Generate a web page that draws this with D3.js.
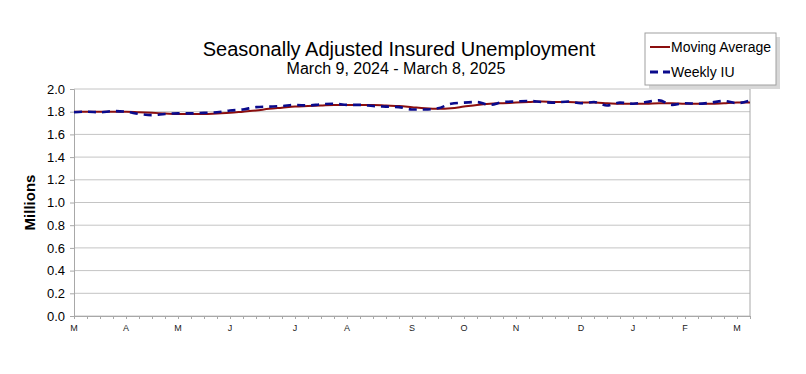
<!DOCTYPE html>
<html>
<head>
<meta charset="utf-8">
<script src="https://d3js.org/d3.v7.min.js"></script>
<style>
  body { margin: 0; background: #fff; }
  text { font-family: Arial, "Liberation Sans", sans-serif; }
</style>
</head>
<body>
<svg width="806" height="374"></svg>
<script>
// weekly values, millions (Mar 9 2024 .. Mar 8 2025)
var weekly = [1.795, 1.80, 1.795, 1.805, 1.80, 1.78, 1.77, 1.78, 1.785, 1.785,
              1.79, 1.795, 1.81, 1.82, 1.84, 1.845, 1.85, 1.86, 1.855, 1.865,
              1.87, 1.86, 1.86, 1.85, 1.845, 1.84, 1.82, 1.82, 1.83, 1.87,
              1.88, 1.885, 1.86, 1.885, 1.89, 1.895, 1.885, 1.88, 1.89, 1.875,
              1.885, 1.855, 1.88, 1.87, 1.885, 1.90, 1.86, 1.875, 1.87, 1.88,
              1.895, 1.875, 1.90];
var movingAvg = [1.80, 1.80, 1.80, 1.80, 1.80, 1.795, 1.79, 1.785, 1.78, 1.78,
                 1.78, 1.785, 1.79, 1.80, 1.81, 1.825, 1.835, 1.845, 1.85, 1.855,
                 1.86, 1.86, 1.86, 1.86, 1.855, 1.85, 1.84, 1.83, 1.825, 1.83,
                 1.845, 1.86, 1.87, 1.875, 1.88, 1.885, 1.89, 1.885, 1.885, 1.88,
                 1.88, 1.875, 1.87, 1.87, 1.87, 1.875, 1.875, 1.87, 1.87, 1.87,
                 1.875, 1.88, 1.88];
// month labels and the week index they sit under
var monthLabels = ["M", "A", "M", "J", "J", "A", "S", "O", "N", "D", "J", "F", "M"];
var monthWeeks = [0, 4, 8, 12, 17, 21, 26, 30, 34, 39, 43, 47, 51];
var yTicks = [0, 0.2, 0.4, 0.6, 0.8, 1.0, 1.2, 1.4, 1.6, 1.8, 2.0];

var svg = d3.select("svg");
var plotL = 74, plotR = 750, plotT = 89, plotB = 316;

var x = d3.scaleLinear().domain([0, weekly.length - 1]).range([plotL, plotR]);
var y = d3.scaleLinear().domain([0, 2]).range([plotB, plotT]);

// gridlines
svg.append("g")
    .selectAll("line")
    .data(yTicks)
    .enter()
    .append("line")
    .attr("x1", plotL)
    .attr("x2", plotR)
    .attr("y1", function(d) { return y(d); })
    .attr("y2", function(d) { return y(d); })
    .attr("stroke", "#c4c4c4")
    .attr("stroke-width", 1);

// right border
svg.append("line")
    .attr("x1", plotR).attr("x2", plotR)
    .attr("y1", plotT).attr("y2", plotB)
    .attr("stroke", "#a8a8a8");

// y axis
var yAxis = svg.append("g")
    .attr("transform", "translate(" + plotL + ",0)")
    .call(d3.axisLeft(y).tickValues(yTicks).tickSize(4).tickFormat(d3.format(".1f")));
yAxis.select(".domain").attr("stroke", "#a8a8a8");
yAxis.selectAll(".tick line").attr("stroke", "#a8a8a8");
yAxis.selectAll("text")
    .attr("font-size", 13)
    .attr("fill", "#000")
    .attr("x", -9)
    .attr("font-family", "Arial, 'Liberation Sans', sans-serif");

// x axis: weekly ticks
var xAxis = svg.append("g")
    .attr("transform", "translate(0," + plotB + ")")
    .call(d3.axisBottom(x).tickValues(d3.range(weekly.length)).tickSize(3).tickFormat(""));
xAxis.select(".domain").attr("stroke", "#a8a8a8");
xAxis.selectAll(".tick line").attr("stroke", "#a8a8a8");

svg.append("g")
    .selectAll("text")
    .data(monthLabels)
    .enter()
    .append("text")
    .attr("x", function(d, i) { return x(monthWeeks[i]); })
    .attr("y", plotB + 15)
    .attr("text-anchor", "middle")
    .attr("font-size", 9)
    .attr("fill", "#222")
    .text(function(d) { return d; });

// y label
svg.append("text")
    .attr("transform", "translate(35," + ((plotT + plotB) / 2) + ") rotate(-90)")
    .attr("text-anchor", "middle")
    .attr("font-size", 15)
    .attr("font-weight", "bold")
    .text("Millions");

// titles
svg.append("text")
    .attr("x", 399).attr("y", 56)
    .attr("text-anchor", "middle")
    .attr("font-size", 20)
    .text("Seasonally Adjusted Insured Unemployment");
svg.append("text")
    .attr("x", 396).attr("y", 74)
    .attr("text-anchor", "middle")
    .attr("font-size", 16)
    .text("March 9, 2024 - March 8, 2025");

// lines
var line = d3.line()
    .x(function(d, i) { return x(i); })
    .y(function(d) { return y(d); })
    .curve(d3.curveMonotoneX);

svg.append("path")
    .datum(movingAvg)
    .attr("d", line)
    .attr("fill", "none")
    .attr("stroke", "#8b0e0e")
    .attr("stroke-width", 2);

svg.append("path")
    .datum(weekly)
    .attr("d", line)
    .attr("fill", "none")
    .attr("stroke", "#0a0a8c")
    .attr("stroke-width", 2.6)
    .attr("stroke-dasharray", "8,6");

// legend
var lg = svg.append("g");
lg.append("rect")
    .attr("x", 649).attr("y", 37).attr("width", 131).attr("height", 52)
    .attr("fill", "#d8d8d8");
lg.append("rect")
    .attr("x", 645).attr("y", 33).attr("width", 131).attr("height", 52)
    .attr("fill", "#fff")
    .attr("stroke", "#a0a0a0");
lg.append("line")
    .attr("x1", 650).attr("x2", 670).attr("y1", 47).attr("y2", 47)
    .attr("stroke", "#8b0e0e").attr("stroke-width", 2);
lg.append("text")
    .attr("x", 671).attr("y", 52)
    .attr("font-size", 14)
    .text("Moving Average");
lg.append("line")
    .attr("x1", 650).attr("x2", 670).attr("y1", 72).attr("y2", 72)
    .attr("stroke", "#0a0a8c").attr("stroke-width", 3)
    .attr("stroke-dasharray", "8,5");
lg.append("text")
    .attr("x", 671).attr("y", 77)
    .attr("font-size", 14)
    .text("Weekly IU");
</script>
</body>
</html>
